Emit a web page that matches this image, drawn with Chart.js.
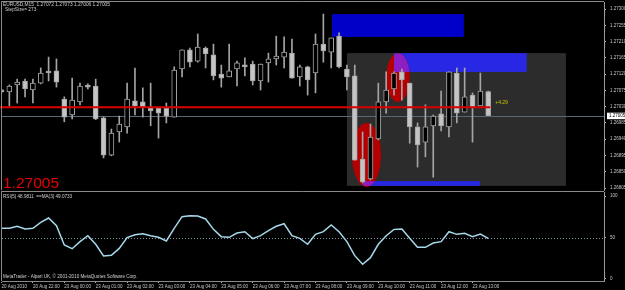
<!DOCTYPE html>
<html>
<head>
<meta charset="utf-8">
<script src="https://cdn.jsdelivr.net/npm/chart.js@4.4.0/dist/chart.umd.min.js"></script>
<style>
  html, body { margin: 0; padding: 0; background: #000; overflow: hidden; }
  #wrap { position: relative; width: 625px; height: 290px; }
  #priceChart { position: absolute; left: 0; top: 0; }
  #rsiChart { position: absolute; left: 0; top: 191px; }
</style>
</head>
<body>
<div id="wrap">
  <canvas id="priceChart" width="625" height="191"></canvas>
  <canvas id="rsiChart" width="625" height="99"></canvas>
</div>
<script>
// EURUSD M15 bars (one per bar, oldest first)
const opens = [1.27076, 1.27071, 1.27090, 1.27101, 1.27076, 1.27095, 1.27126, 1.27129, 1.27051, 1.27007,
  1.27043, 1.27087, 1.27087, 1.26999, 1.26896, 1.26960, 1.26974, 1.27046, 1.27043, 1.27026,
  1.27026, 1.27026, 1.27001, 1.27134, 1.27187, 1.27156, 1.27192, 1.27173, 1.27120, 1.27112,
  1.27134, 1.27145, 1.27148, 1.27101, 1.27151, 1.27162, 1.27167, 1.27178, 1.27112, 1.27140,
  1.27123, 1.27203, 1.27181, 1.27225, 1.27134, 1.27115, 1.26885, 1.26830, 1.26941, 1.27043,
  1.27079, 1.27126, 1.27095, 1.26974, 1.26932, 1.26977, 1.27010, 1.26974, 1.27123, 1.27015,
  1.27062, 1.27032, 1.27072];
const highs = [1.27078, 1.27090, 1.27106, 1.27106, 1.27106, 1.27137, 1.27167, 1.27162, 1.27057, 1.27109,
  1.27095, 1.27093, 1.27106, 1.27001, 1.26968, 1.27004, 1.27095, 1.27137, 1.27082, 1.27095,
  1.27026, 1.27040, 1.27140, 1.27187, 1.27192, 1.27231, 1.27195, 1.27203, 1.27145, 1.27203,
  1.27156, 1.27165, 1.27156, 1.27148, 1.27178, 1.27225, 1.27223, 1.27217, 1.27145, 1.27142,
  1.27231, 1.27286, 1.27220, 1.27234, 1.27145, 1.27145, 1.26960, 1.26982, 1.27095, 1.27126,
  1.27126, 1.27134, 1.27095, 1.26985, 1.27035, 1.27007, 1.27073, 1.27126, 1.27137, 1.27137,
  1.27068, 1.27123, 1.27073];
const lows = [1.27068, 1.27032, 1.27040, 1.27057, 1.27040, 1.27093, 1.27101, 1.27084, 1.26988, 1.26996,
  1.27035, 1.27079, 1.26994, 1.26888, 1.26894, 1.26932, 1.26957, 1.27007, 1.27001, 1.26977,
  1.26943, 1.26985, 1.27001, 1.27112, 1.27140, 1.27153, 1.27137, 1.27104, 1.27084, 1.27112,
  1.27087, 1.27115, 1.27090, 1.27076, 1.27098, 1.27145, 1.27137, 1.27109, 1.27087, 1.27062,
  1.27068, 1.27153, 1.27137, 1.27137, 1.27076, 1.26882, 1.26819, 1.26827, 1.26938, 1.27012,
  1.27062, 1.27048, 1.26929, 1.26863, 1.26891, 1.26835, 1.26963, 1.26946, 1.26985, 1.27015,
  1.26932, 1.27032, 1.27005];
const closes = [1.27071, 1.27087, 1.27098, 1.27079, 1.27095, 1.27123, 1.27123, 1.27098, 1.27001, 1.27048,
  1.27087, 1.27084, 1.26996, 1.26896, 1.26957, 1.26982, 1.27051, 1.27032, 1.27029, 1.27018,
  1.27012, 1.27004, 1.27131, 1.27187, 1.27153, 1.27195, 1.27176, 1.27115, 1.27109, 1.27129,
  1.27151, 1.27140, 1.27101, 1.27148, 1.27162, 1.27170, 1.27181, 1.27109, 1.27140, 1.27104,
  1.27203, 1.27184, 1.27220, 1.27140, 1.27112, 1.26882, 1.26822, 1.26946, 1.27043, 1.27076,
  1.27123, 1.27104, 1.26974, 1.26924, 1.26974, 1.27004, 1.26977, 1.27126, 1.27012, 1.27057,
  1.27029, 1.27073, 1.27005];

// RSI(5), one value per bar
const rsiValues = [61.1, 61.1, 63.5, 60.2, 61.1, 68.3, 73.5, 64.3, 41.0, 36.5,
  45.0, 52.2, 41.8, 27.7, 28.5, 36.9, 49.8, 53.4, 54.6, 52.2,
  50.2, 45.8, 61.1, 75.1, 76.3, 75.9, 72.3, 59.8, 51.0, 50.2,
  55.4, 57.0, 48.6, 52.2, 58.2, 63.5, 66.6, 52.2, 49.0, 41.8,
  53.8, 57.0, 65.1, 57.0, 45.0, 28.1, 17.7, 25.7, 41.8, 52.2,
  59.8, 60.2, 49.0, 38.2, 38.2, 43.4, 45.0, 57.0, 53.8, 55.0,
  51.0, 54.2, 48.98];

// one time label every 4 bars
const timeLabels = ['20 Aug 2010', '20 Aug 22:00', '23 Aug 00:00', '23 Aug 01:00', '23 Aug 02:00',
  '23 Aug 03:00', '23 Aug 04:00', '23 Aug 05:00', '23 Aug 06:00', '23 Aug 07:00', '23 Aug 08:00',
  '23 Aug 09:00', '23 Aug 10:00', '23 Aug 11:00', '23 Aug 12:00', '23 Aug 13:00'];
const barsPerLabel = 4;
const priceTicks = [1.27300, 1.27255, 1.27210, 1.27165, 1.27120, 1.27075, 1.27030,
  1.26985, 1.26940, 1.26895, 1.26850, 1.26805];
const rsiTicks = [0, 50, 100];
const lastPrice = 1.27005;
const levelPrice = 1.27028;
const levelLabel = '+4.29';

// drawn objects on the chart, in bar index / price units
const boxes = [
  { from: 44.0, to: 71.9, hi: 1.27178, lo: 1.26811, color: '#2c2c2c', blue: false },
  { from: 42.1, to: 58.9, hi: 1.27286, lo: 1.27223, color: '#0000c8', blue: true },
  { from: 50.0, to: 66.9, hi: 1.27178, lo: 1.27126, color: '#2828e4', blue: true },
  { from: 46.05, to: 60.95, hi: 1.26824, lo: 1.26811, color: '#2828e4', blue: true }
];
const ovals = [
  { from: 49.0, to: 52.0, hi: 1.27178, lo: 1.27043 },
  { from: 44.65, to: 48.35, hi: 1.26985, lo: 1.26808 }
];

const X_MIN = 0.064, X_MAX = 76.75;
const FONT = 'Liberation Sans';
Chart.defaults.font.family = FONT;
Chart.defaults.font.size = 4.5;
Chart.defaults.color = '#c8c8c8';

// keep the plot area where MT4 has it: no extra room for half labels
function noLabelPadding(s) {
  s.paddingTop = 0; s.paddingBottom = 0; s.paddingLeft = 0; s.paddingRight = 0;
}

function ovalPath(ctx, x, y, o) {
  const x0 = x.getPixelForValue(o.from), x1 = x.getPixelForValue(o.to);
  const y0 = y.getPixelForValue(o.hi), y1 = y.getPixelForValue(o.lo);
  ctx.beginPath();
  ctx.ellipse((x0 + x1) / 2, (y0 + y1) / 2, (x1 - x0) / 2, (y1 - y0) / 2, 0, 0, Math.PI * 2);
}

const priceOverlay = {
  id: 'priceOverlay',
  beforeDatasetsDraw(chart) {
    const { ctx, chartArea: a, scales: { x, y } } = chart;
    ctx.save();
    ctx.beginPath();
    ctx.rect(a.left, a.top, a.right - a.left, a.bottom - a.top);
    ctx.clip();
    boxes.forEach(b => {
      const x0 = x.getPixelForValue(b.from), x1 = x.getPixelForValue(b.to);
      const y0 = y.getPixelForValue(b.hi), y1 = y.getPixelForValue(b.lo);
      ctx.fillStyle = b.color;
      ctx.fillRect(x0, y0, x1 - x0, y1 - y0);
    });
    ovals.forEach(o => { ovalPath(ctx, x, y, o); ctx.fillStyle = '#b40000'; ctx.fill(); });
    // red + blue overlap shows purple
    boxes.filter(b => b.blue).forEach(b => {
      const x0 = x.getPixelForValue(b.from), x1 = x.getPixelForValue(b.to);
      const y0 = y.getPixelForValue(b.hi), y1 = y.getPixelForValue(b.lo);
      ctx.save();
      ctx.beginPath();
      ctx.rect(x0, y0, x1 - x0, y1 - y0);
      ctx.clip();
      ovals.forEach(o => { ovalPath(ctx, x, y, o); ctx.fillStyle = '#8c1ec2'; ctx.fill(); });
      ctx.restore();
    });
    // bid line
    const by = Math.round(y.getPixelForValue(lastPrice)) + 0.5;
    ctx.strokeStyle = '#5a6874';
    ctx.lineWidth = 1;
    ctx.beginPath();
    ctx.moveTo(a.left, by);
    ctx.lineTo(a.right, by);
    ctx.stroke();
    ctx.restore();
  },
  afterDatasetsDraw(chart) {
    const { ctx, chartArea: a, scales: { x, y } } = chart;
    const ly = y.getPixelForValue(levelPrice);
    const lx = x.getPixelForValue(closes.length - 1);
    ctx.save();
    ctx.strokeStyle = '#dc0000';
    ctx.lineWidth = 2;
    ctx.beginPath();
    ctx.moveTo(a.left - 2, ly);
    ctx.lineTo(lx + 2, ly);
    ctx.stroke();
    ctx.fillStyle = '#c8c800';
    ctx.font = '5px ' + FONT;
    ctx.textBaseline = 'middle';
    ctx.fillText(levelLabel, lx + 7, ly - 5);
    ctx.restore();
  },
  afterDraw(chart) {
    const { ctx, chartArea: a, scales: { y } } = chart;
    ctx.save();
    // panel frame
    ctx.strokeStyle = '#8a8a8a';
    ctx.lineWidth = 1;
    ctx.beginPath();
    ctx.moveTo(a.left - 1, 1.5);
    ctx.lineTo(a.right, 1.5);
    ctx.moveTo(1.5, 1);
    ctx.lineTo(1.5, a.bottom);
    ctx.stroke();
    // header text
    ctx.fillStyle = '#d0d0d0';
    ctx.font = '4.8px ' + FONT;
    ctx.textBaseline = 'middle';
    ctx.fillText('EURUSD,M15  1.27072 1.27073 1.27006 1.27005', 3, 5);
    ctx.fillText('StepSize= 273', 5, 10);
    // big price
    ctx.fillStyle = '#e60000';
    ctx.font = '15.5px ' + FONT;
    ctx.textBaseline = 'alphabetic';
    ctx.fillText(lastPrice.toFixed(5), 3, 188);
    // current price box on the axis
    const py = y.getPixelForValue(lastPrice);
    ctx.fillStyle = '#ffffff';
    ctx.fillRect(607, py - 3, 18, 6.5);
    ctx.fillStyle = '#000000';
    ctx.font = '4.5px ' + FONT;
    ctx.textBaseline = 'middle';
    ctx.fillText(lastPrice.toFixed(5), 609, py);
    ctx.restore();
  }
};

new Chart(document.getElementById('priceChart'), {
  type: 'bar',
  data: {
    datasets: [{
      label: 'body',
      data: opens.map((o, i) => ({ x: i, y: [o, closes[i]] })),
      backgroundColor: opens.map((o, i) => closes[i] > o ? '#000000' : '#c4c4c4'),
      borderColor: '#a4a4a4',
      borderWidth: 1,
      borderSkipped: false,
      barThickness: 5,
      minBarLength: 2,
      grouped: false
    }, {
      label: 'wick',
      data: lows.map((l, i) => ({ x: i, y: [l, highs[i]] })),
      backgroundColor: '#a4a4a4',
      barThickness: 1,
      grouped: false
    }]
  },
  options: {
    responsive: false,
    animation: false,
    events: [],
    layout: { padding: { left: 2, top: 2, right: 0, bottom: 1 } },
    plugins: { legend: { display: false }, tooltip: { enabled: false } },
    scales: {
      x: { type: 'linear', display: false, min: X_MIN, max: X_MAX, offset: false },
      y: {
        position: 'right',
        min: 1.267995,
        max: 1.273194,
        afterBuildTicks: s => { s.ticks = priceTicks.map(v => ({ value: v })); },
        afterFit: s => { s.width = 21; noLabelPadding(s); },
        ticks: { padding: 4, autoSkip: false, callback: v => v.toFixed(5) },
        grid: { drawOnChartArea: false, drawTicks: true, tickLength: 2, color: '#b0b0b0' },
        border: { display: true, color: '#9a9a9a' }
      }
    }
  },
  plugins: [priceOverlay]
});

const rsiOverlay = {
  id: 'rsiOverlay',
  beforeDatasetsDraw(chart) {
    const { ctx, chartArea: a, scales: { y } } = chart;
    const my = Math.round(y.getPixelForValue(50)) + 0.5;
    ctx.save();
    ctx.strokeStyle = '#7d9aa6';
    ctx.lineWidth = 1;
    ctx.setLineDash([1, 2]);
    ctx.beginPath();
    ctx.moveTo(a.left, my);
    ctx.lineTo(a.right, my);
    ctx.stroke();
    ctx.restore();
  },
  afterDraw(chart) {
    const { ctx, chartArea: a } = chart;
    ctx.save();
    ctx.strokeStyle = '#8a8a8a';
    ctx.lineWidth = 1;
    ctx.beginPath();
    ctx.moveTo(1, 0.5);
    ctx.lineTo(a.right, 0.5);
    ctx.moveTo(1.5, 0);
    ctx.lineTo(1.5, a.bottom);
    ctx.stroke();
    ctx.fillStyle = '#d0d0d0';
    ctx.font = '4.6px ' + FONT;
    ctx.textBaseline = 'middle';
    ctx.fillText('RSI(5) 48.9811  ==MA(3) 49.0733', 3, 6);
    ctx.fillText('MetaTrader - Alpari UK, \u00a9 2001-2010 MetaQuotes Software Corp.', 3, 86);
    ctx.restore();
  }
};

new Chart(document.getElementById('rsiChart'), {
  type: 'line',
  data: {
    datasets: [{
      label: 'RSI(5)',
      data: rsiValues.map((v, i) => ({ x: i, y: v })),
      borderColor: '#a6d8ea',
      borderWidth: 1.5,
      pointRadius: 0,
      tension: 0
    }]
  },
  options: {
    responsive: false,
    animation: false,
    events: [],
    layout: { padding: { left: 2, top: 1, right: 0, bottom: 0 } },
    plugins: { legend: { display: false }, tooltip: { enabled: false } },
    scales: {
      x: {
        type: 'linear',
        min: X_MIN,
        max: X_MAX,
        afterBuildTicks: s => { s.ticks = timeLabels.map((t, i) => ({ value: i * barsPerLabel })); },
        afterFit: s => { s.height = 9; noLabelPadding(s); },
        ticks: { align: 'start', padding: 1, autoSkip: false, maxRotation: 0, minRotation: 0,
          callback: (v, i) => timeLabels[i] },
        grid: { drawOnChartArea: false, drawTicks: true, tickLength: 2, color: '#b0b0b0' },
        border: { display: true, color: '#8a8a8a' }
      },
      y: {
        position: 'right',
        min: -2.41,
        max: 104.82,
        afterBuildTicks: s => { s.ticks = rsiTicks.map(v => ({ value: v })); },
        afterFit: s => { s.width = 21; noLabelPadding(s); },
        ticks: { padding: 4, autoSkip: false },
        grid: { drawOnChartArea: false, drawTicks: true, tickLength: 2, color: '#b0b0b0' },
        border: { display: true, color: '#9a9a9a' }
      }
    }
  },
  plugins: [rsiOverlay]
});
</script>
</body>
</html>
